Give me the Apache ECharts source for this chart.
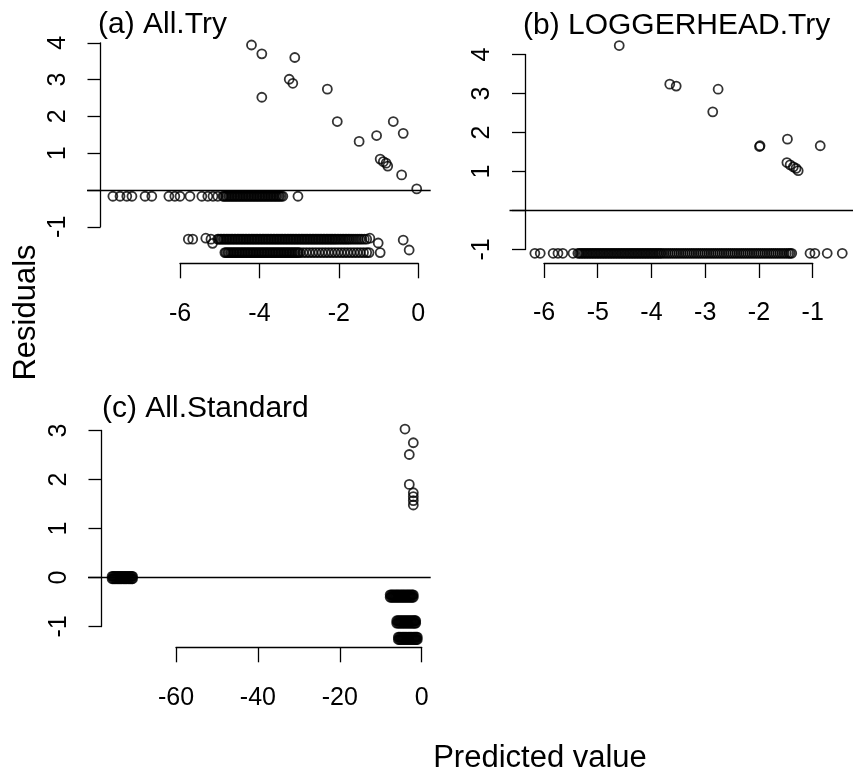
<!DOCTYPE html>
<html><head><meta charset="utf-8">
<script src="https://cdn.jsdelivr.net/npm/echarts@6/dist/echarts.min.js"></script>
<style>html,body{margin:0;padding:0;background:#fff}#c{width:853px;height:778px}</style>
</head><body><div id="c"></div>
<script>
// ---------------- DATA ----------------
// Panel (a) All.Try
const aTitle = "(a) All.Try";
const aXTicks = [-6, -4, -2, 0];
const aYTicks = [-1, 1, 2, 3, 4];
const aPtsX = [-4.20,-3.94,-3.11,-3.94,-3.25,-3.16,-2.29,-2.04,-1.49,-1.05,-0.63,-0.38,-0.96,-0.88,-0.81,-0.77,-0.42,-0.04,
               -5.79,-5.68,-5.35,-5.22,-5.18,-1.22,-1.01,-0.38,-0.23,-0.96];
const aPtsY = [3.94,3.70,3.60,2.52,3.01,2.90,2.74,1.86,1.32,1.48,1.86,1.54,0.84,0.77,0.73,0.65,0.41,0.03,
               -1.335,-1.335,-1.31,-1.335,-1.45,-1.31,-1.44,-1.36,-1.63,-1.70];
const aRow0Y = -0.17;
const aRow0X = [-7.69,-7.51,-7.34,-7.21,-6.88,-6.71,-6.28,-6.13,-6.00,-5.75,-5.45,-5.30,-5.17,-5.05,
  -4.92,-4.89,-4.85,-4.82,-4.78,-4.75,-4.71,-4.68,-4.64,-4.61,-4.57,-4.54,-4.50,-4.47,-4.43,-4.40,-4.36,
  -4.33,-4.29,-4.26,-4.22,-4.19,-4.15,-4.12,-4.08,-4.05,-4.01,-3.98,-3.94,-3.91,-3.87,-3.84,-3.80,-3.77,
  -3.73,-3.70,-3.66,-3.63,-3.59,-3.56,-3.52,-3.49,-3.45,-3.41,-3.03];
const aRow1Y = -1.335;
const aRow1X = [-5.05,-5.02,-4.98,-4.95,-4.91,-4.88,-4.84,-4.81,-4.77,-4.74,-4.70,-4.67,-4.63,-4.60,-4.56,
  -4.53,-4.49,-4.46,-4.42,-4.39,-4.35,-4.32,-4.28,-4.25,-4.21,-4.18,-4.14,-4.11,-4.07,-4.04,-4.00,-3.97,
  -3.93,-3.90,-3.86,-3.83,-3.79,-3.76,-3.72,-3.69,-3.65,-3.62,-3.58,-3.55,-3.51,-3.48,-3.44,-3.41,-3.37,
  -3.34,-3.30,-3.27,-3.23,-3.20,-3.16,-3.13,-3.09,-3.06,-3.02,-2.99,-2.95,-2.92,-2.88,-2.85,-2.81,-2.78,
  -2.74,-2.71,-2.67,-2.64,-2.60,-2.57,-2.53,-2.50,-2.46,-2.43,-2.39,-2.36,-2.32,-2.29,-2.25,-2.22,-2.18,
  -2.15,-2.11,-2.08,-2.04,-2.00,-1.96,-1.92,-1.88,-1.84,-1.80,-1.76,-1.72,-1.67,-1.62,-1.57,-1.52,-1.47,
  -1.42,-1.36,-1.30];
const aRow2Y = -1.70;
const aRow2X = [-4.87,-4.84,-4.80,-4.77,-4.73,-4.70,-4.66,-4.63,-4.59,-4.56,-4.52,-4.49,-4.45,-4.42,-4.38,
  -4.35,-4.31,-4.28,-4.24,-4.21,-4.17,-4.14,-4.10,-4.07,-4.03,-4.00,-3.96,-3.93,-3.89,-3.86,-3.82,-3.79,
  -3.75,-3.72,-3.68,-3.65,-3.61,-3.58,-3.54,-3.51,-3.47,-3.44,-3.40,-3.37,-3.33,-3.30,-3.26,-3.23,-3.19,
  -3.16,-3.12,-3.09,-3.05,-3.02,-2.98,-2.90,-2.82,-2.74,-2.66,-2.58,-2.50,-2.42,-2.34,-2.26,-2.18,-2.10,
  -2.02,-1.94,-1.86,-1.78,-1.70,-1.62,-1.54,-1.46,-1.38,-1.30,-1.24];

// Panel (b) LOGGERHEAD.Try
const bTitle = "(b) LOGGERHEAD.Try";
const bXTicks = [-6, -5, -4, -3, -2, -1];
const bYTicks = [-1, 1, 2, 3, 4];
const bPtsX = [-4.60,-3.66,-3.54,-2.76,-2.86,-1.98,-1.99,-1.47,-0.86,-1.48,-1.42,-1.36,-1.31,-1.27];
const bPtsY = [4.23,3.24,3.19,3.11,2.53,1.66,1.64,1.83,1.66,1.23,1.17,1.12,1.08,1.02];
const bRowY = -1.097;
const bRowX = [-6.17,-6.07,-5.83,-5.74,-5.65,-5.46,
  -5.37,-5.34,-5.31,-5.28,-5.25,-5.22,-5.19,-5.16,-5.13,-5.10,-5.07,-5.04,-5.01,-4.98,-4.95,-4.92,-4.89,
  -4.86,-4.83,-4.80,-4.77,-4.74,-4.71,-4.68,-4.65,-4.62,-4.59,-4.56,-4.53,-4.50,-4.47,-4.44,-4.41,-4.38,
  -4.35,-4.32,-4.29,-4.26,-4.23,-4.20,-4.17,-4.14,-4.11,-4.08,-4.05,-4.02,-3.99,-3.96,-3.93,-3.90,-3.87,
  -3.84,-3.81,-3.77,-3.73,-3.69,-3.65,-3.61,-3.57,-3.53,-3.49,-3.45,-3.41,-3.37,-3.33,-3.29,-3.25,-3.21,
  -3.17,-3.13,-3.09,-3.05,-3.01,-2.97,-2.93,-2.89,-2.85,-2.81,-2.77,-2.73,-2.69,-2.65,-2.61,-2.57,-2.53,
  -2.49,-2.45,-2.41,-2.37,-2.33,-2.29,-2.25,-2.21,-2.17,-2.13,-2.09,-2.05,-2.01,-1.97,-1.93,-1.89,-1.85,
  -1.81,-1.77,-1.73,-1.69,-1.65,-1.61,-1.57,-1.53,-1.49,-1.45,-1.42,-1.39,
  -1.05,-0.96,-0.73,-0.45];

// Panel (c) All.Standard
const cTitle = "(c) All.Standard";
const cXTicks = [-60, -40, -20, 0];
const cYTicks = [-1, 0, 1, 2, 3];
const cPtsX = [-4.08,-2.05,-3.03,-3.03,-2.05,-2.05,-2.05,-2.05];
const cPtsY = [3.03,2.75,2.51,1.90,1.73,1.65,1.57,1.48];
const cRow0aY = 0.025, cRow0bY = -0.025;
const cRow0X = [-75.6,-75.3,-75.0,-74.7,-74.4,-74.1,-73.8,-73.5,-73.2,-72.9,-72.6,-72.3,-72.0,-71.7,-71.4,-71.1,-70.8,-70.6];
const cRow1aY = -0.353, cRow1bY = -0.403;
const cRow1X = [-7.7,-7.4,-7.1,-6.8,-6.5,-6.2,-5.9,-5.6,-5.3,-5.0,-4.7,-4.4,-4.1,-3.8,-3.5,-3.2,-2.9,-2.6,-2.3,-2.05];
const cRow2aY = -0.883, cRow2bY = -0.933;
const cRow2X = [-6.1,-5.8,-5.5,-5.2,-4.9,-4.6,-4.3,-4.0,-3.7,-3.4,-3.1,-2.8,-2.5,-2.2,-1.9,-1.65,-1.46];
const cRow3aY = -1.216, cRow3bY = -1.266;
const cRow3X = [-5.7,-5.4,-5.1,-4.8,-4.5,-4.2,-3.9,-3.6,-3.3,-3.0,-2.7,-2.4,-2.1,-1.8,-1.55,-1.3,-1.07];

const yLabel = "Residuals";
const xLabel = "Predicted value";

// ---------------- LAYOUT ----------------
const FONT = "'Liberation Sans', Arial, Helvetica, sans-serif";
const LAYOUT = {
  a: { xm: [-6, 180, 0, 418.3], ym: [4, 42.8, -1, 226.8], plot: [87, 430.7, 20, 272], yAx: 100.5, xAx: 263.3,
       title: [98, 25] },
  b: { xm: [-6, 544, -1, 812.7], ym: [4, 54.5, -1, 249.5], plot: [509.5, 853, 20, 272], yAx: 525, xAx: 263,
       title: [523, 26] },
  c: { xm: [-60, 176, 0, 421.7], ym: [3, 430.5, -1, 626.5], plot: [88, 430.7, 400, 660], yAx: 101.5, xAx: 647.3,
       title: [102, 409] }
};

function inv(m, p) { return m[0] + (p - m[1]) * (m[2] - m[0]) / (m[3] - m[1]); }
function pairs(xs, ys) { return xs.map((x, i) => [x, ys[i]]); }
function row(xs, y) { return xs.map(x => [x, y]); }

const panels = {
  a: { xt: aXTicks, yt: aYTicks, data: [].concat(pairs(aPtsX, aPtsY), row(aRow0X, aRow0Y), row(aRow1X, aRow1Y), row(aRow2X, aRow2Y)) },
  b: { xt: bXTicks, yt: bYTicks, data: [].concat(pairs(bPtsX, bPtsY), row(bRowX, bRowY)) },
  c: { xt: cXTicks, yt: cYTicks, data: [].concat(pairs(cPtsX, cPtsY),
        row(cRow0X, cRow0aY), row(cRow0X, cRow0bY), row(cRow1X, cRow1aY), row(cRow1X, cRow1bY),
        row(cRow2X, cRow2aY), row(cRow2X, cRow2bY), row(cRow3X, cRow3aY), row(cRow3X, cRow3bY)) }
};

const grid = [], xAxis = [], yAxis = [], series = [];
const lineStyle = { color: '#000', width: 1.3 };
const hidden = (gi, min, max) => ({ gridIndex: gi, type: 'value', show: false, min, max, axisLine: { onZero: false } });

['a', 'b', 'c'].forEach(k => {
  const Lk = LAYOUT[k], P = panels[k];
  const xt = P.xt, yt = P.yt;
  const xmin = Math.min(...xt), xmax = Math.max(...xt);
  const ymin = Math.min(...yt), ymax = Math.max(...yt);
  const g0 = grid.length;
  grid.push({ left: Lk.plot[0], top: Lk.plot[2], width: Lk.plot[1] - Lk.plot[0], height: Lk.plot[3] - Lk.plot[2],
              containLabel: false, outerBoundsMode: 'none' });
  xAxis.push(hidden(g0, inv(Lk.xm, Lk.plot[0]), inv(Lk.xm, Lk.plot[1])));
  yAxis.push(hidden(g0, inv(Lk.ym, Lk.plot[3]), inv(Lk.ym, Lk.plot[2])));
  series.push({
    type: 'scatter', xAxisIndex: g0, yAxisIndex: g0, data: P.data,
    symbol: 'circle', symbolSize: 9, clip: false, progressive: 0, silent: true,
    itemStyle: { color: 'rgba(0,0,0,0)', borderColor: '#000', borderWidth: 1.8 },
    emphasis: { disabled: true },
    markLine: { silent: true, symbol: ['none', 'none'], label: { show: false },
                lineStyle: { color: '#000', width: 1.3, type: 'solid' }, data: [{ yAxis: 0 }] }
  });
  const g1 = grid.length;
  grid.push({ left: Lk.yAx, top: Lk.ym[1], width: 20, height: Lk.ym[3] - Lk.ym[1], containLabel: false, outerBoundsMode: 'none' });
  xAxis.push(hidden(g1, 0, 1));
  yAxis.push({
    gridIndex: g1, type: 'value', position: 'left', min: ymin, max: ymax, interval: 1,
    axisLine: { show: true, onZero: false, lineStyle },
    axisTick: { show: true, inside: false, length: 13, lineStyle },
    splitLine: { show: false },
    axisLabel: { show: true, rotate: 90, margin: 30, fontSize: 25, fontFamily: FONT, color: '#000',
                 showMinLabel: true, showMaxLabel: true,
                 formatter: v => (yt.indexOf(v) >= 0 ? String(v) : '') }
  });
  const g2 = grid.length;
  grid.push({ left: Lk.xm[1], top: Lk.xAx - 20, width: Lk.xm[3] - Lk.xm[1], height: 20, containLabel: false, outerBoundsMode: 'none' });
  yAxis.push(hidden(g2, 0, 1));
  xAxis.push({
    gridIndex: g2, type: 'value', position: 'bottom', min: xmin, max: xmax, interval: xt[1] - xt[0],
    axisLine: { show: true, onZero: false, lineStyle },
    axisTick: { show: true, inside: false, length: 15, lineStyle },
    splitLine: { show: false },
    axisLabel: { show: true, margin: 38, fontSize: 25, fontFamily: FONT, color: '#000',
                 showMinLabel: true, showMaxLabel: true,
                 formatter: v => (xt.indexOf(v) >= 0 ? String(v) : '') }
  });
});

const graphic = [
  { type: 'text', x: LAYOUT.a.title[0], y: LAYOUT.a.title[1], style: { text: aTitle, fontSize: 30, fontFamily: FONT, fill: '#000', align: 'left', verticalAlign: 'middle' } },
  { type: 'text', x: LAYOUT.b.title[0], y: LAYOUT.b.title[1], style: { text: bTitle, fontSize: 30, fontFamily: FONT, fill: '#000', align: 'left', verticalAlign: 'middle' } },
  { type: 'text', x: LAYOUT.c.title[0], y: LAYOUT.c.title[1], style: { text: cTitle, fontSize: 30, fontFamily: FONT, fill: '#000', align: 'left', verticalAlign: 'middle' } },
  { type: 'text', x: 26.4, y: 312.5, rotation: Math.PI / 2, style: { text: yLabel, fontSize: 31, fontFamily: FONT, fill: '#000', align: 'center', verticalAlign: 'middle' } },
  { type: 'text', x: 540, y: 758, style: { text: xLabel, fontSize: 31, fontFamily: FONT, fill: '#000', align: 'center', verticalAlign: 'middle' } }
];

const chart = echarts.init(document.getElementById('c'), null, { renderer: 'canvas' });
chart.setOption({ animation: false, backgroundColor: '#fff', grid, xAxis, yAxis, series, graphic });
</script>
</body></html>
